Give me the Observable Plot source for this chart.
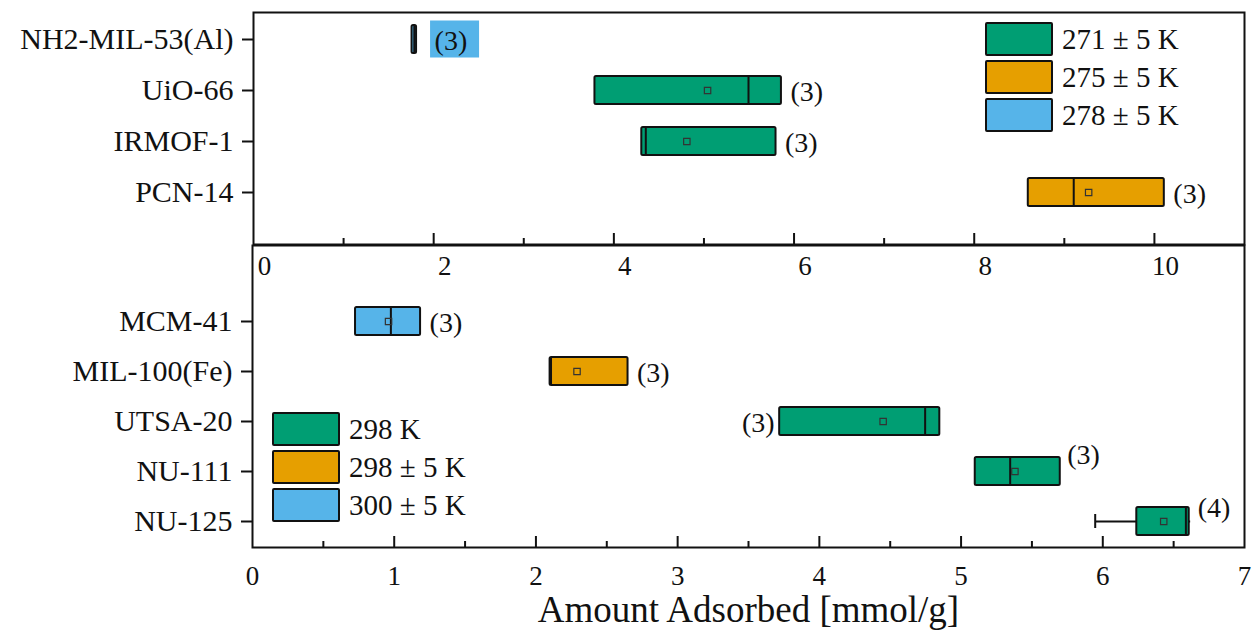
<!DOCTYPE html>
<html><head><meta charset="utf-8">
<script src="https://cdn.jsdelivr.net/npm/d3@7"></script>
<script src="https://cdn.jsdelivr.net/npm/@observablehq/plot@0.6"></script>
<style>
body{margin:0;background:#fff;}
#chart{position:relative;width:1252px;height:632px;font-family:"Liberation Serif","Times New Roman",serif;background:#fff;overflow:hidden;}
#chart svg{position:absolute;left:0;top:0;}
.legend{position:absolute;z-index:5;}
.item{display:flex;align-items:center;height:38px;}
.sw{width:64px;height:30px;border:2px solid #111;border-radius:2px;}
.lab{font-size:29px;margin-left:9px;line-height:1;color:#111;}
</style></head><body><div id="chart"></div>
<script>
// ---- top panel data ----
const topNames = ["NH2-MIL-53(Al)", "UiO-66", "IRMOF-1", "PCN-14"];
const topQ1 = [1.76, 3.79, 4.31, 8.60];
const topQ3 = [1.81, 5.86, 5.80, 10.11];
const topMedian = [1.79, 5.50, 4.36, 9.11];
const topMean = [1.79, 5.04, 4.81, 9.27];
const topMin = [1.76, 3.79, 4.31, 8.60];
const topMax = [1.81, 5.86, 5.80, 10.11];
const topTemp = ["278 ± 5 K", "271 ± 5 K", "271 ± 5 K", "275 ± 5 K"];
const topN = ["(3)", "(3)", "(3)", "(3)"];
const topLabelSide = ["boxed", "right", "right", "right"];
const topLegend = ["271 ± 5 K", "275 ± 5 K", "278 ± 5 K"];
const topTicks = [0, 2, 4, 6, 8, 10];

// ---- bottom panel data ----
const botNames = ["MCM-41", "MIL-100(Fe)", "UTSA-20", "NU-111", "NU-125"];
const botQ1 = [0.727, 2.10, 3.72, 5.10, 6.24];
const botQ3 = [1.186, 2.65, 4.85, 5.70, 6.61];
const botMedian = [0.98, 2.11, 4.75, 5.35, 6.59];
const botMean = [0.96, 2.29, 4.45, 5.38, 6.43];
const botMin = [0.727, 2.10, 3.72, 5.10, 5.95];
const botMax = [1.186, 2.65, 4.85, 5.70, 6.62];
const botTemp = ["300 ± 5 K", "298 ± 5 K", "298 K", "298 K", "298 K"];
const botN = ["(3)", "(3)", "(3)", "(3)", "(4)"];
const botLabelSide = ["right", "right", "left", "upper", "rightup"];
const botLegend = ["298 K", "298 ± 5 K", "300 ± 5 K"];
const botTicks = [0, 1, 2, 3, 4, 5, 6, 7];

const palette = ["#009E73", "#E69F00", "#56B4E9"];
const xTitle = "Amount Adsorbed [mmol/g]";

function rows(names, q1, q3, med, mean, mn, mx, temp, n, side) {
  return names.map((name, i) => ({name, q1: q1[i], q3: q3[i], median: med[i], mean: mean[i],
    min: mn[i], max: mx[i], temp: temp[i], n: n[i], side: side[i]}));
}
const topData = rows(topNames, topQ1, topQ3, topMedian, topMean, topMin, topMax, topTemp, topN, topLabelSide);
const botData = rows(botNames, botQ1, botQ3, botMedian, botMean, botMin, botMax, botTemp, botN, botLabelSide);

const W = 1252, H = 632;
const ink = "#111";
const half = 14;

function vline(data, xField, h) {
  return Plot.rect(data, {x1: xField, x2: xField, y1: "name", y2: "name",
    insetLeft: -1, insetRight: -1, insetTop: -h, insetBottom: -h, fill: ink});
}

function boxMarks(data, legend) {
  const colorOf = d => palette[legend.indexOf(d.temp)];
  const lowW = data.filter(d => d.min < d.q1);
  const side = s => data.filter(d => d.side === s);
  return [
    Plot.rect(side("boxed"), {x1: "q3", x2: "q3", y1: "name", y2: "name",
      insetLeft: 14, insetRight: -63, insetTop: -18.5, insetBottom: -18.5, fill: d => colorOf(d)}),
    Plot.ruleY(lowW, {x1: "min", x2: "q1", y: "name", stroke: ink, strokeWidth: 2}),
    vline(lowW, "min", 7),
    Plot.ruleY(data.filter(d => d.max > d.q3), {x1: "q3", x2: "max", y: "name", stroke: ink, strokeWidth: 2}),
    Plot.rect(data, {x1: "q1", x2: "q3", y1: "name", y2: "name", insetTop: -half, insetBottom: -half,
      fill: d => colorOf(d), stroke: ink, strokeWidth: 2, rx: 1.5}),
    vline(data, "median", half),
    Plot.dot(data.filter(d => d.q3 - d.q1 > 0.1), {x: "mean", y: "name", symbol: "square", r: 3.6, stroke: "#333", fill: "none", strokeWidth: 1.2}),
    Plot.text(side("right"), {x: "max", y: "name", text: "n", dx: 9, dy: 2, textAnchor: "start", fontSize: 28, fill: ink}),
    Plot.text(side("rightup"), {x: "max", y: "name", text: "n", dx: 7, dy: -13, textAnchor: "start", fontSize: 28, fill: ink}),
    Plot.text(side("boxed"), {x: "q3", y: "name", text: "n", dx: 18, dy: 2, textAnchor: "start", fontSize: 28, fill: ink}),
    Plot.text(side("left"), {x: "q1", y: "name", text: "n", dx: -5, dy: 2, textAnchor: "end", fontSize: 28, fill: ink}),
    Plot.text(side("upper"), {x: "q3", y: "name", text: "n", dx: 7, dy: -16, textAnchor: "start", fontSize: 28, fill: ink})
  ];
}

// ---- top panel ----
const tTop = 12, tBottom = 244;
const topPlot = Plot.plot({
  width: W, height: H,
  marginTop: tTop, marginBottom: H - tBottom, marginLeft: 253, marginRight: 8,
  style: {fontFamily: "Liberation Serif", background: "transparent", color: ink},
  x: {domain: [0, 11]},
  y: {type: "point", domain: topNames, range: [38, 192], padding: 0},
  marks: [
    Plot.ruleX(d3.range(1, 11).filter(v => v % 2 === 0), {x: d => d, insetTop: (tBottom - tTop) - 11, stroke: ink, strokeWidth: 2}),
    Plot.ruleX(d3.range(1, 11).filter(v => v % 2 === 1), {x: d => d, insetTop: (tBottom - tTop) - 6, stroke: ink, strokeWidth: 2}),
    Plot.axisX({anchor: "bottom", ticks: topTicks, tickFormat: d => String(d), tickSize: 0, tickPadding: 11, dx: 11, fontSize: 27, label: null, fill: ink}),
    Plot.axisY({anchor: "left", tickSize: 11, tickPadding: 9, fontSize: 30, label: null, strokeWidth: 2, fill: ink, stroke: ink}),
    ...boxMarks(topData, topLegend),
    Plot.frame({stroke: ink, strokeWidth: 2})
  ]
});

// ---- bottom panel ----
const bTop = 245, bBottom = 547;
const botPlot = Plot.plot({
  width: W, height: H,
  marginTop: bTop, marginBottom: H - bBottom, marginLeft: 252, marginRight: 8,
  style: {fontFamily: "Liberation Serif", background: "transparent", color: ink},
  x: {domain: [0, 7]},
  y: {type: "point", domain: botNames, range: [320, 522], padding: 0},
  marks: [
    Plot.ruleX(botTicks.slice(1, -1), {x: d => d, insetTop: (bBottom - bTop) - 11, stroke: ink, strokeWidth: 2}),
    Plot.ruleX(d3.range(0.5, 7, 1), {x: d => d, insetTop: (bBottom - bTop) - 6, stroke: ink, strokeWidth: 2}),
    Plot.axisX({anchor: "bottom", ticks: botTicks, tickFormat: d => String(d), tickSize: 0, tickPadding: 18, fontSize: 27, label: null, fill: ink}),
    Plot.axisY({anchor: "left", tickSize: 11, tickPadding: 9, fontSize: 30, label: null, strokeWidth: 2, fill: ink, stroke: ink}),
    ...boxMarks(botData, botLegend),
    Plot.frame({stroke: ink, strokeWidth: 2}),
    Plot.text([xTitle], {text: d => d, frameAnchor: "bottom", dy: 63, fontSize: 37, lineAnchor: "middle", fill: ink})
  ]
});

const chart = document.getElementById("chart");
chart.appendChild(botPlot);
chart.appendChild(topPlot);

function legend(labels, left, top) {
  const div = document.createElement("div");
  div.className = "legend";
  div.style.left = left + "px";
  div.style.top = top + "px";
  labels.forEach((lab, i) => {
    const it = document.createElement("div");
    it.className = "item";
    const sw = document.createElement("div");
    sw.className = "sw";
    sw.style.background = palette[i];
    const tx = document.createElement("span");
    tx.className = "lab";
    tx.textContent = lab;
    it.appendChild(sw); it.appendChild(tx);
    div.appendChild(it);
  });
  chart.appendChild(div);
}
legend(topLegend, 985, 20);
legend(botLegend, 272, 410);
</script></body></html>
